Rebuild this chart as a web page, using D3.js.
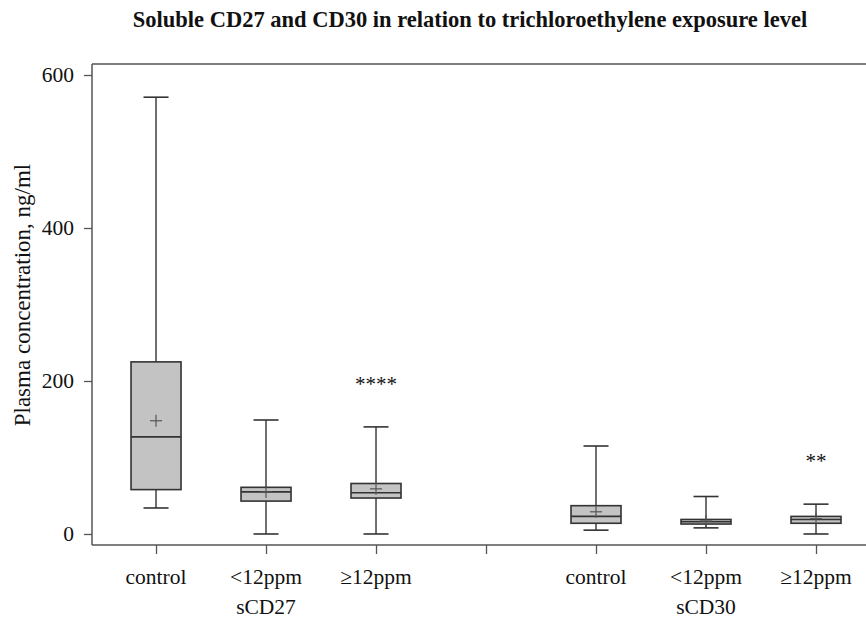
<!DOCTYPE html>
<html>
<head>
<meta charset="utf-8">
<script src="https://cdn.jsdelivr.net/npm/d3@7"></script>
<style>
  html, body { margin: 0; padding: 0; background: #fff; }
  svg { display: block; }
  text { font-family: "Liberation Serif", "DejaVu Serif", serif; fill: #111; }
</style>
</head>
<body>
<svg id="chart" width="866" height="624"></svg>
<script>
// ---- data ----
const groups = ["sCD27", "sCD30"];
const categories = ["control", "<12ppm", "\u226512ppm"];
const slots = [0, 1, 2, 4, 5, 6];           // position index of each box (3 = gap between groups)
const whiskerHigh = [571, 149, 140, 115, 49, 39];
const q3          = [225, 61, 66, 37, 19, 23];
const median      = [127, 55, 54, 23, 16, 19];
const mean        = [148, 55, 59, 29, 17, 20];
const q1          = [58, 43, 47, 14, 13, 14];
const whiskerLow  = [34, 0, 0, 5, 8, 0];
const significance = ["", "", "****", "", "", "**"];
const sigLevel     = [null, null, 197, null, null, 97];
const yTicks = [0, 200, 400, 600];
const title = "Soluble CD27 and CD30 in relation to trichloroethylene exposure level";
const yTitle = "Plasma concentration, ng/ml";

// ---- layout ----
const svg = d3.select("#chart");
const mLeft = 92, mRight = 866, mTop = 64, mBottom = 545;
const fs = 21.5;

const y = d3.scaleLinear().domain([-14.4, 614.4]).range([mBottom, mTop]);
const x = d3.scaleLinear().domain([-0.582, 6.4545]).range([mLeft, mRight]);

const boxes = slots.map((s, i) => ({
  slot: s, label: categories[i % 3], group: groups[Math.floor(i / 3)],
  hi: whiskerHigh[i], q3: q3[i], med: median[i], mean: mean[i], q1: q1[i], lo: whiskerLow[i],
  sig: significance[i], sigY: sigLevel[i]
}));

// title
svg.append("text").attr("x", 470).attr("y", 27).attr("text-anchor", "middle")
  .attr("font-weight", "bold").attr("font-size", 22.5).text(title);

// frame
const axisColor = "#555";
svg.append("line").attr("x1", mLeft).attr("x2", mRight).attr("y1", mTop).attr("y2", mTop)
  .attr("stroke", axisColor).attr("stroke-width", 1.5);

// y axis
const yAxis = d3.axisLeft(y).tickValues(yTicks).tickSize(8).tickPadding(10);
const gy = svg.append("g").attr("transform", `translate(${mLeft},0)`).call(yAxis);
gy.select(".domain").attr("stroke", axisColor).attr("stroke-width", 1.5)
  .attr("d", `M0,${mTop}V${mBottom}`);
gy.selectAll(".tick line").attr("stroke", axisColor).attr("stroke-width", 1.3);
gy.selectAll(".tick text").attr("font-size", fs).attr("font-family", "Liberation Serif").attr("fill", "#111");

// x axis
const xAxis = d3.axisBottom(x).tickValues([0, 1, 2, 3, 4, 5, 6]).tickSize(9).tickFormat("");
const gx = svg.append("g").attr("transform", `translate(0,${mBottom})`).call(xAxis);
gx.select(".domain").attr("stroke", axisColor).attr("stroke-width", 1.5)
  .attr("d", `M${mLeft},0H${mRight}`);
gx.selectAll(".tick line").attr("stroke", axisColor).attr("stroke-width", 1.3);

// category labels
svg.selectAll(".cat").data(boxes).enter().append("text")
  .attr("class", "cat").attr("x", d => x(d.slot)).attr("y", 584)
  .attr("text-anchor", "middle").attr("font-size", fs).text(d => d.label);

// group labels
svg.selectAll(".grp").data(groups).enter().append("text")
  .attr("class", "grp").attr("x", (d, i) => x(i * 4 + 1)).attr("y", 614)
  .attr("text-anchor", "middle").attr("font-size", fs).text(d => d);

// y title
svg.append("text").attr("transform", `translate(30,295) rotate(-90)`)
  .attr("text-anchor", "middle").attr("font-size", 23).text(yTitle);

// boxes
const boxHalf = 25, capHalf = 12.5, stroke = "#333";
const g = svg.append("g");
boxes.forEach(d => {
  const cx = x(d.slot);
  const bg = g.append("g");
  bg.append("line").attr("x1", cx).attr("x2", cx).attr("y1", y(d.hi)).attr("y2", y(d.q3))
    .attr("stroke", stroke).attr("stroke-width", 1.4);
  bg.append("line").attr("x1", cx).attr("x2", cx).attr("y1", y(d.q1)).attr("y2", y(d.lo))
    .attr("stroke", stroke).attr("stroke-width", 1.4);
  bg.append("line").attr("x1", cx - capHalf).attr("x2", cx + capHalf).attr("y1", y(d.hi)).attr("y2", y(d.hi))
    .attr("stroke", stroke).attr("stroke-width", 1.6);
  bg.append("line").attr("x1", cx - capHalf).attr("x2", cx + capHalf).attr("y1", y(d.lo)).attr("y2", y(d.lo))
    .attr("stroke", stroke).attr("stroke-width", 1.6);
  bg.append("rect").attr("x", cx - boxHalf).attr("width", boxHalf * 2)
    .attr("y", y(d.q3)).attr("height", y(d.q1) - y(d.q3))
    .attr("fill", "#c3c3c3").attr("stroke", stroke).attr("stroke-width", 1.6);
  bg.append("line").attr("x1", cx - boxHalf).attr("x2", cx + boxHalf).attr("y1", y(d.med)).attr("y2", y(d.med))
    .attr("stroke", stroke).attr("stroke-width", 1.6);
  const my = y(d.mean);
  bg.append("line").attr("x1", cx - 6).attr("x2", cx + 6).attr("y1", my).attr("y2", my)
    .attr("stroke", "#555").attr("stroke-width", 1.2);
  bg.append("line").attr("x1", cx).attr("x2", cx).attr("y1", my - 6).attr("y2", my + 6)
    .attr("stroke", "#555").attr("stroke-width", 1.2);
  if (d.sig) {
    bg.append("text").attr("x", cx).attr("y", y(d.sigY) + 8).attr("text-anchor", "middle")
      .attr("font-size", 21).attr("fill", "#444").text(d.sig);
  }
});
</script>
</body>
</html>
